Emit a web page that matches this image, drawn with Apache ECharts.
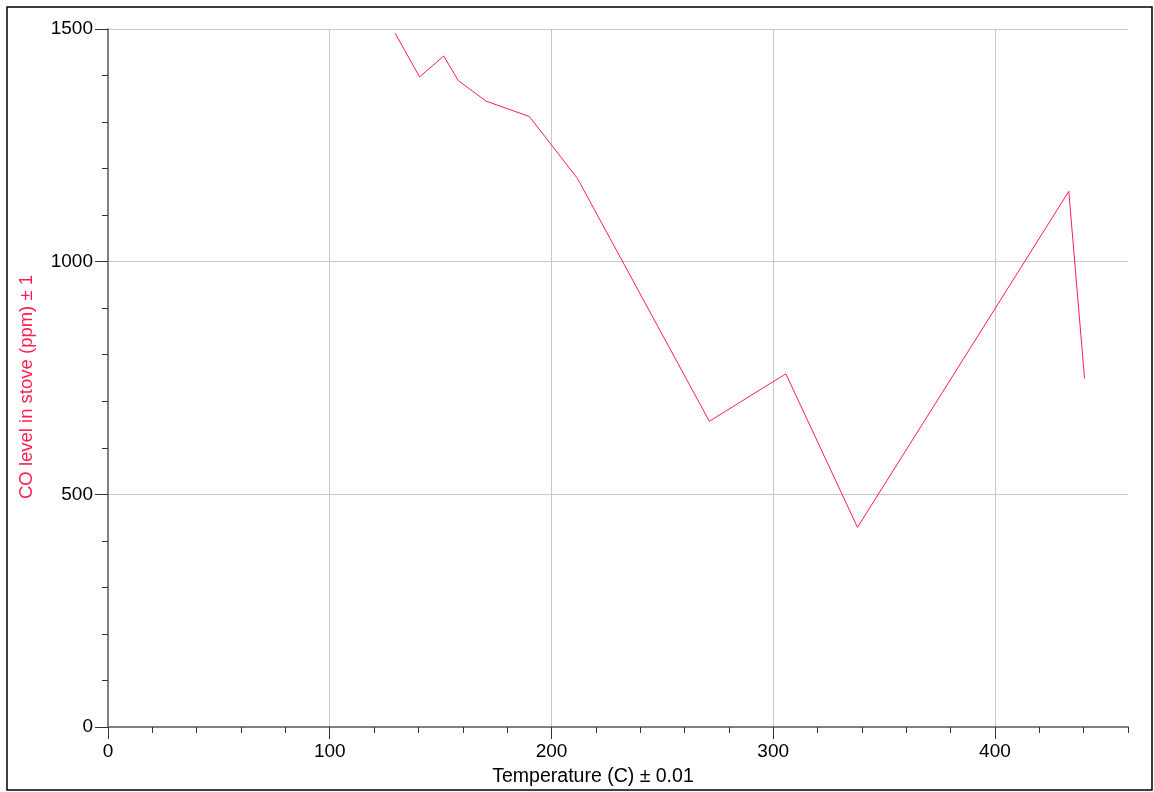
<!DOCTYPE html>
<html>
<head>
<meta charset="utf-8">
<script src="https://cdn.jsdelivr.net/npm/echarts@6/dist/echarts.min.js"></script>
<style>
html,body{margin:0;padding:0;background:#fff;}
#chart{width:1154px;height:792px;}
</style>
</head>
<body>
<div id="chart"></div>
<script>
// Data
const temperature = [129.5, 140.5, 151.4, 158.0, 170.5, 190.0, 211.7, 271.2, 305.7, 338.0, 433.3, 440.4];
const coLevel     = [1491, 1397, 1442, 1389, 1345, 1312, 1179, 657, 759, 429, 1151, 749];
const xTickLabels = [0, 100, 200, 300, 400];
const yTickLabels = [0, 500, 1000, 1500];
const xAxisName = 'Temperature (C) \u00b1 0.01';
const yAxisName = 'CO level in stove (ppm) \u00b1 1';

const FONT = 'Liberation Sans, Arial, sans-serif';
const RED = '#ff1e4e';

const chart = echarts.init(document.getElementById('chart'), null, {renderer: 'canvas'});
const points = temperature.map((t, i) => [t, coLevel[i]]);

chart.setOption({
  animation: false,
  backgroundColor: '#ffffff',
  grid: {left: 108, right: 26, top: 29, bottom: 63, containLabel: false},
  graphic: [{
    type: 'rect',
    shape: {x: 7, y: 7, width: 1145, height: 783},
    style: {fill: 'none', stroke: '#000', lineWidth: 1.5},
    z: 100
  }],
  xAxis: [{
    type: 'value',
    position: 'bottom',
    min: 0, max: 460, interval: 100,
    name: xAxisName,
    nameLocation: 'middle',
    nameGap: 40,
    nameTextStyle: {color: '#000', fontSize: 19.5, fontFamily: FONT, padding: [0, 50, 0, 0]},
    axisLine: {show: true, onZero: false, lineStyle: {color: '#808080', width: 2}},
    axisTick: {show: true, length: 12, customValues: xTickLabels, lineStyle: {color: '#333', width: 1}},
    axisLabel: {show: true, customValues: xTickLabels, margin: 15, color: '#000', fontSize: 19, fontFamily: FONT,
                formatter: v => String(v)},
    splitLine: {show: true, lineStyle: {color: '#c8c8c8', width: 1}}
  }, {
    type: 'value',
    position: 'bottom',
    offset: 0,
    min: 0, max: 460, interval: 20,
    axisLine: {show: false},
    axisTick: {show: true, length: 6, lineStyle: {color: '#333', width: 1}},
    axisLabel: {show: false},
    splitLine: {show: false}
  }],
  yAxis: {
    type: 'value',
    min: 0, max: 1500, interval: 500,
    name: yAxisName,
    nameLocation: 'middle',
    nameGap: 72,
    nameTextStyle: {color: RED, fontSize: 18.5, fontFamily: FONT, padding: [0, 18, 0, 0]},
    axisLine: {show: true, onZero: false, lineStyle: {color: '#808080', width: 2}},
    axisTick: {show: true, length: 13, customValues: yTickLabels, lineStyle: {color: '#333', width: 1}},
    minorTick: {show: true, splitNumber: 5, length: 6, lineStyle: {color: '#333', width: 1}},
    axisLabel: {show: true, customValues: yTickLabels, margin: 15, color: '#000', fontSize: 19, fontFamily: FONT,
                formatter: v => String(v)},
    splitLine: {show: true, lineStyle: {color: '#c8c8c8', width: 1}}
  },
  series: [{
    type: 'line',
    data: points,
    showSymbol: false,
    symbol: 'none',
    lineStyle: {color: RED, width: 1},
    itemStyle: {color: RED},
    clip: true
  }]
});
</script>
</body>
</html>
